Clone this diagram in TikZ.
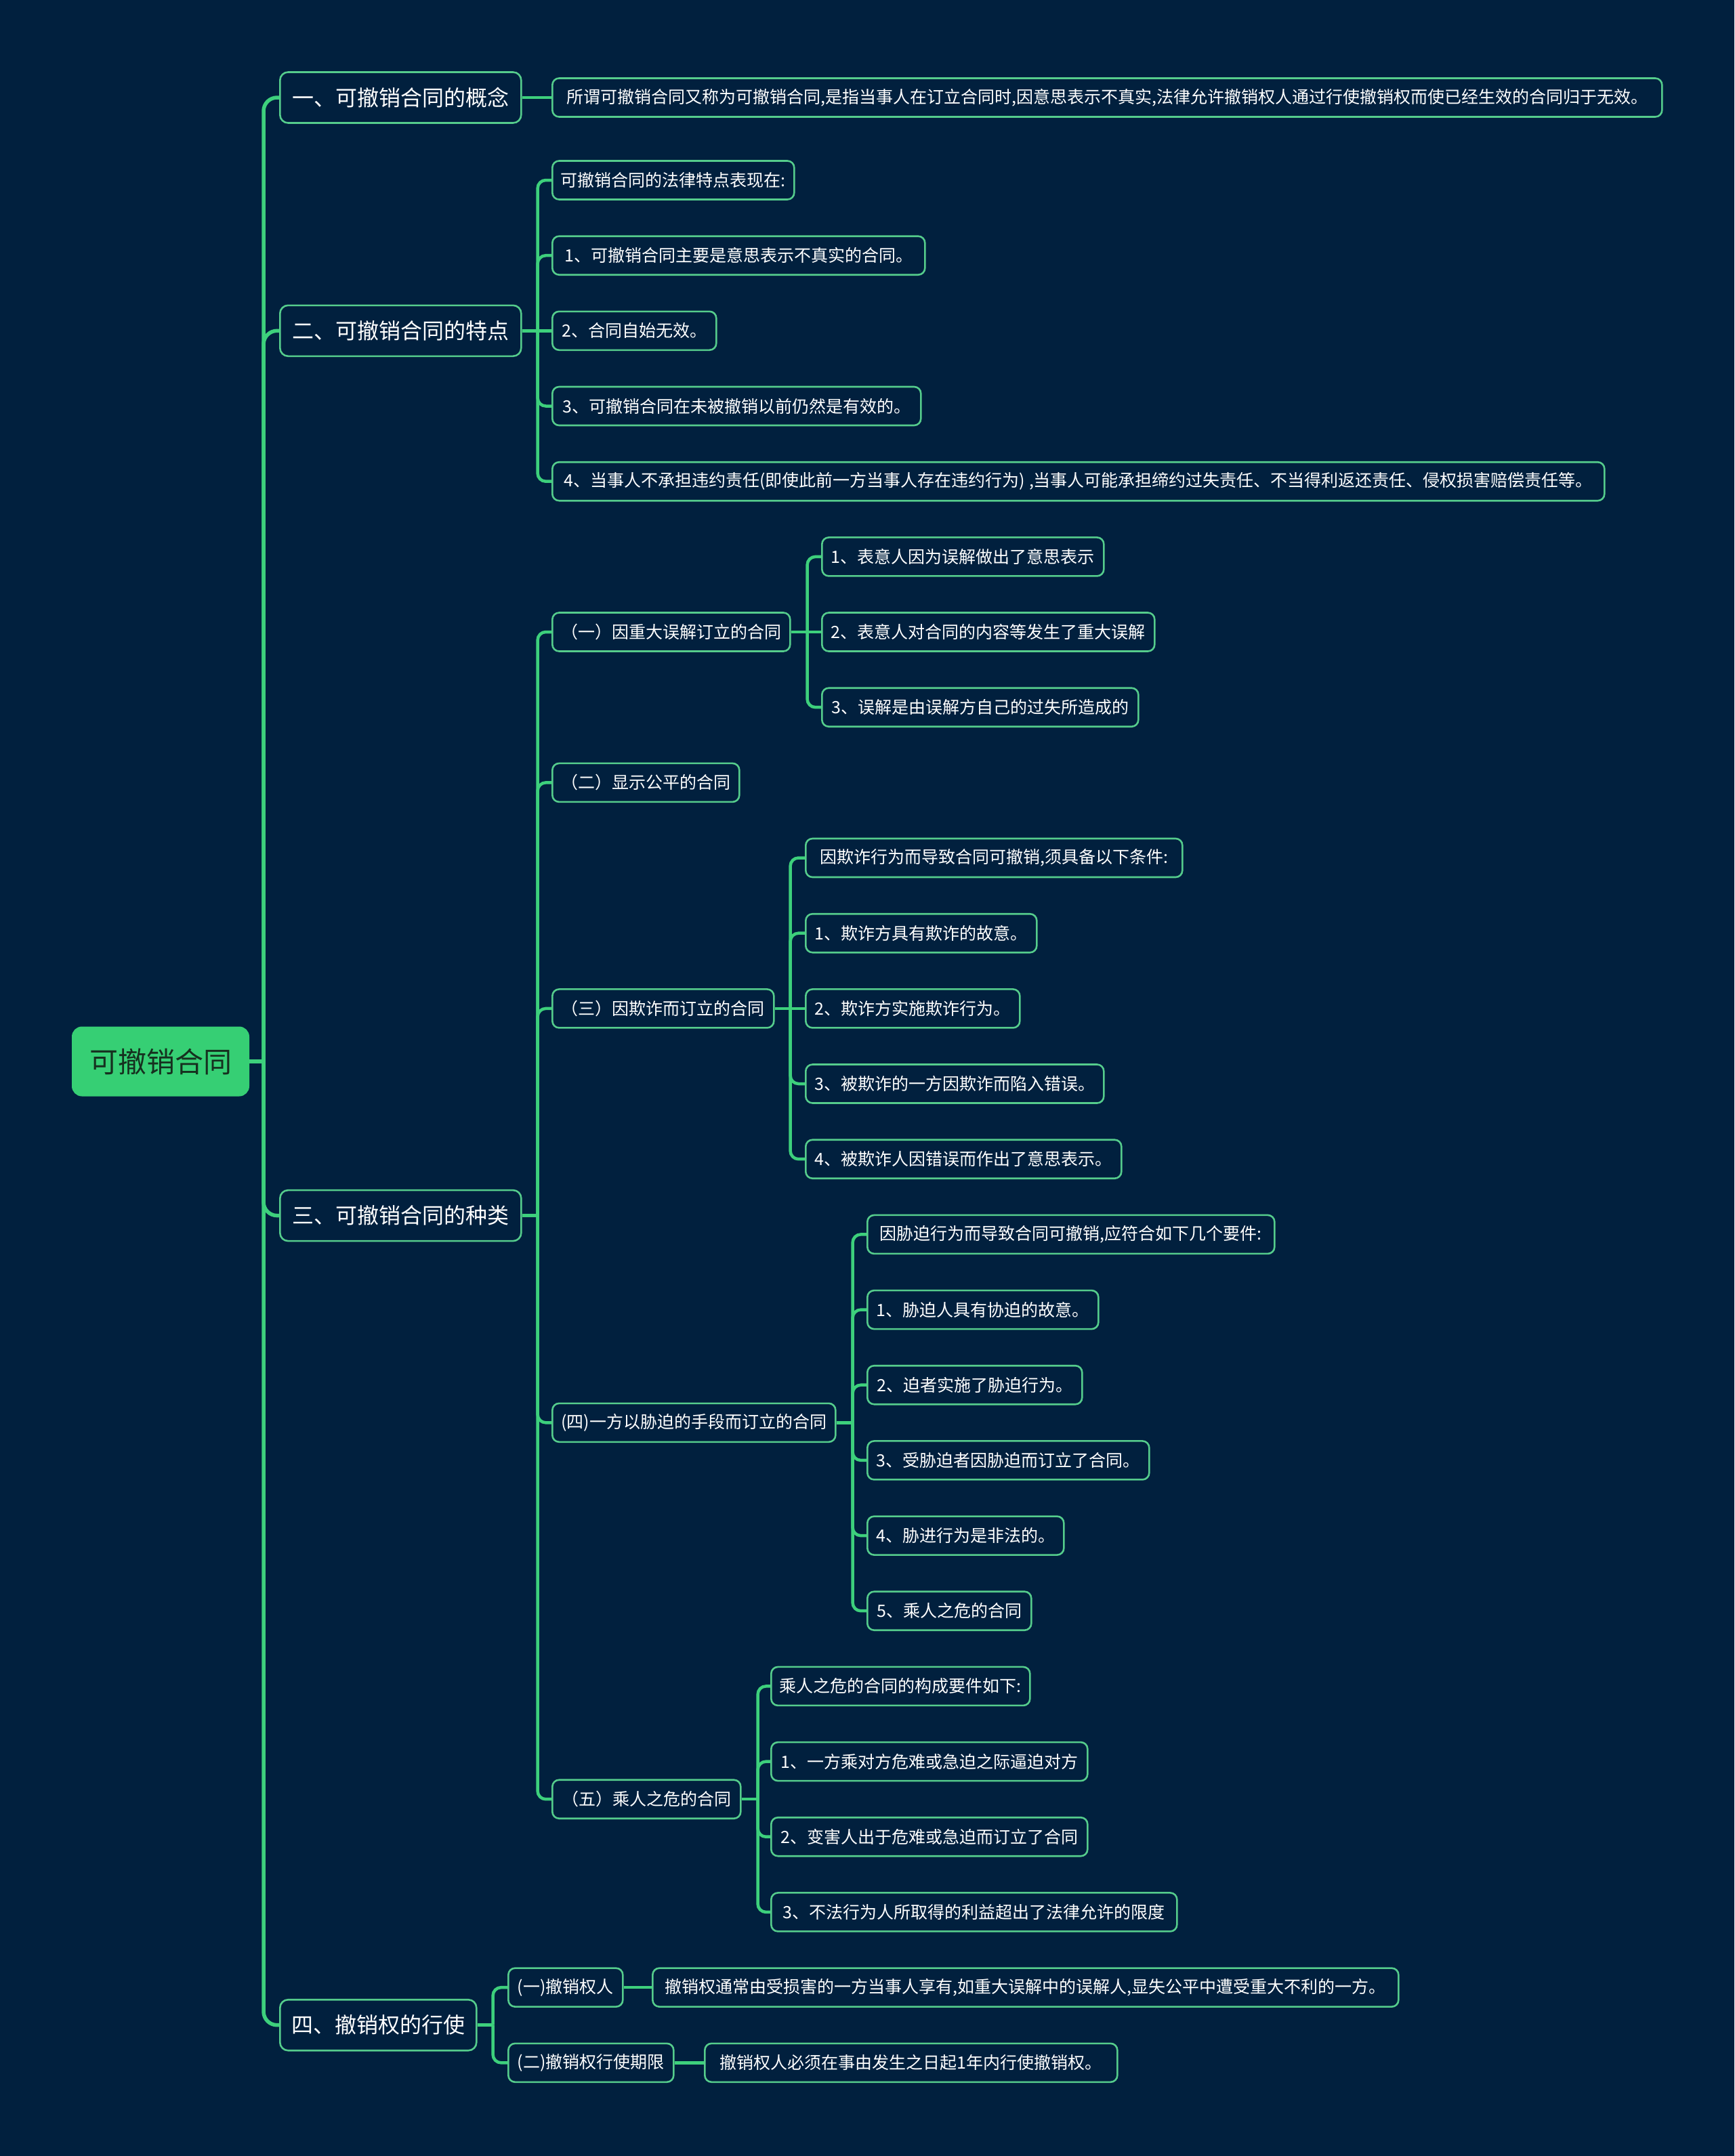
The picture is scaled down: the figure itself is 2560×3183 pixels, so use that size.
\documentclass[tikz,border=0pt]{standalone}
\usepackage{fontspec}
\setmainfont{Noto Sans CJK SC}
\usetikzlibrary{calc}
\definecolor{bgc}{HTML}{01203E}
\definecolor{linec}{HTML}{3DD07C}
\definecolor{bordc}{HTML}{55CC8C}
\definecolor{rootc}{HTML}{36CF74}
\definecolor{roottext}{HTML}{16301F}
\tikzset{
  base/.style={draw=bordc, line width=2.6, fill=bgc, text=white, rounded corners=10, anchor=west, inner xsep=0, inner ysep=0},
  rootbox/.style={fill=rootc, draw=rootc, line width=2, text=roottext, font=\fontsize{42}{50}\selectfont, minimum height=101, minimum width=260, rounded corners=14, anchor=center, inner sep=0},
  lvone/.style={base, font=\fontsize{32}{38}\selectfont, minimum height=75, rounded corners=12},
  leaf/.style={base, font=\fontsize{25}{30}\selectfont, minimum height=57},
  wd/.style={minimum width=#1},
  trunk/.style={draw=linec, line width=5.5},
  conn/.style={draw=linec, line width=4.5},
}
\newcommand\mmlink[3]{%
  \draw[conn] (#1.east) -- ++(#3,0);
  \draw[conn, rounded corners=12] ($(#1.east)+(#3,0)$) |- (#2.west);}
\newcommand\mmstraight[2]{%
  \draw[conn] (#1.east) -- (#2.west);}
\newcommand\mmtrunk[2]{%
  \draw[trunk, rounded corners=20] ($(root.east)+(21,0)$) |- (#2.west);}
\begin{document}
\begin{tikzpicture}[x=1pt,y=-1pt]
\fill[bgc] (0,0) rectangle (2560,3183);
\useasboundingbox (0,0) rectangle (2560,3183);

\node[rootbox] (root) at (237,1567) {可撤销合同};
\node[lvone, wd=356] (a) at (412,144) {一、可撤销合同的概念};
\node[lvone, wd=356] (b) at (412,488.3) {二、可撤销合同的特点};
\node[lvone, wd=356] (c) at (412,1794.6) {三、可撤销合同的种类};
\node[lvone, wd=290] (d) at (412,2989.7) {四、撤销权的行使};

\node[leaf, wd=1638] (a1) at (814,144) {所谓可撤销合同又称为可撤销合同,是指当事人在订立合同时,因意思表示不真实,法律允许撤销权人通过行使撤销权而使已经生效的合同归于无效。};

\node[leaf, wd=357] (b1) at (814,266) {可撤销合同的法律特点表现在:};
\node[leaf, wd=550] (b2) at (814,377.2) {1、可撤销合同主要是意思表示不真实的合同。};
\node[leaf, wd=242] (b3) at (814,488.3) {2、合同自始无效。};
\node[leaf, wd=544] (b4) at (814,599.5) {3、可撤销合同在未被撤销以前仍然是有效的。};
\node[leaf, wd=1553] (b5) at (814,710.7) {4、当事人不承担违约责任(即使此前一方当事人存在违约行为) ,当事人可能承担缔约过失责任、不当得利返还责任、侵权损害赔偿责任等。};

\node[leaf, wd=351] (c1) at (814,933.0) {（一）因重大误解订立的合同};
\node[leaf, wd=276] (c2) at (814,1155.4) {（二）显示公平的合同};
\node[leaf, wd=327] (c3) at (814,1488.9) {（三）因欺诈而订立的合同};
\node[leaf, wd=418] (c4) at (814,2100.3) {(四)一方以胁迫的手段而订立的合同};
\node[leaf, wd=278] (c5) at (814,2656.2) {（五）乘人之危的合同};

\node[leaf, wd=416] (c11) at (1212,821.9) {1、表意人因为误解做出了意思表示};
\node[leaf, wd=491] (c12) at (1212,933.0) {2、表意人对合同的内容等发生了重大误解};
\node[leaf, wd=467] (c13) at (1212,1044.2) {3、误解是由误解方自己的过失所造成的};

\node[leaf, wd=556] (c31) at (1188,1266.5) {因欺诈行为而导致合同可撤销,须具备以下条件:};
\node[leaf, wd=341] (c32) at (1188,1377.7) {1、欺诈方具有欺诈的故意。};
\node[leaf, wd=316] (c33) at (1188,1488.9) {2、欺诈方实施欺诈行为。};
\node[leaf, wd=440] (c34) at (1188,1600.0) {3、被欺诈的一方因欺诈而陷入错误。};
\node[leaf, wd=466] (c35) at (1188,1711.2) {4、被欺诈人因错误而作出了意思表示。};

\node[leaf, wd=601] (c41) at (1279,1822.4) {因胁迫行为而导致合同可撤销,应符合如下几个要件:};
\node[leaf, wd=341] (c42) at (1279,1933.6) {1、胁迫人具有协迫的故意。};
\node[leaf, wd=317] (c43) at (1279,2044.7) {2、迫者实施了胁迫行为。};
\node[leaf, wd=416] (c44) at (1279,2155.9) {3、受胁迫者因胁迫而订立了合同。};
\node[leaf, wd=290] (c45) at (1279,2267.1) {4、胁进行为是非法的。};
\node[leaf, wd=242] (c46) at (1279,2378.2) {5、乘人之危的合同};

\node[leaf, wd=382] (c51) at (1137,2489.4) {乘人之危的合同的构成要件如下:};
\node[leaf, wd=467] (c52) at (1137,2600.6) {1、一方乘对方危难或急迫之际逼迫对方};
\node[leaf, wd=467] (c53) at (1137,2711.7) {2、变害人出于危难或急迫而订立了合同};
\node[leaf, wd=599] (c54) at (1137,2822.9) {3、不法行为人所取得的利益超出了法律允许的限度};

\node[leaf, wd=169] (d1) at (749,2934.1) {(一)撤销权人};
\node[leaf, wd=244] (d2) at (749,3045.3) {(二)撤销权行使期限};
\node[leaf, wd=1101] (d11) at (962,2934.1) {撤销权通常由受损害的一方当事人享有,如重大误解中的误解人,显失公平中遭受重大不利的一方。};
\node[leaf, wd=609] (d21) at (1039,3045.3) {撤销权人必须在事由发生之日起1年内行使撤销权。};

% trunk
\draw[trunk] (root.east) -- ++(21,0);
\mmtrunk{root}{a}
\mmtrunk{root}{b}
\mmtrunk{root}{c}
\mmtrunk{root}{d}

\mmstraight{a}{a1}
\foreach \k in {b1,b2,b4,b5} {\mmlink{b}{\k}{23}}
\mmstraight{b}{b3}
\foreach \k in {c1,c2,c3,c4,c5} {\mmlink{c}{\k}{23}}
\foreach \k in {c11,c13} {\mmlink{c1}{\k}{24}}
\mmstraight{c1}{c12}
\foreach \k in {c31,c32,c34,c35} {\mmlink{c3}{\k}{23}}
\mmstraight{c3}{c33}
\foreach \k in {c41,c42,c43,c44,c45,c46} {\mmlink{c4}{\k}{24}}
\foreach \k in {c51,c52,c53,c54} {\mmlink{c5}{\k}{24}}
\foreach \k in {d1,d2} {\mmlink{d}{\k}{23}}
\mmstraight{d1}{d11}
\mmstraight{d2}{d21}
\end{tikzpicture}
\end{document}
